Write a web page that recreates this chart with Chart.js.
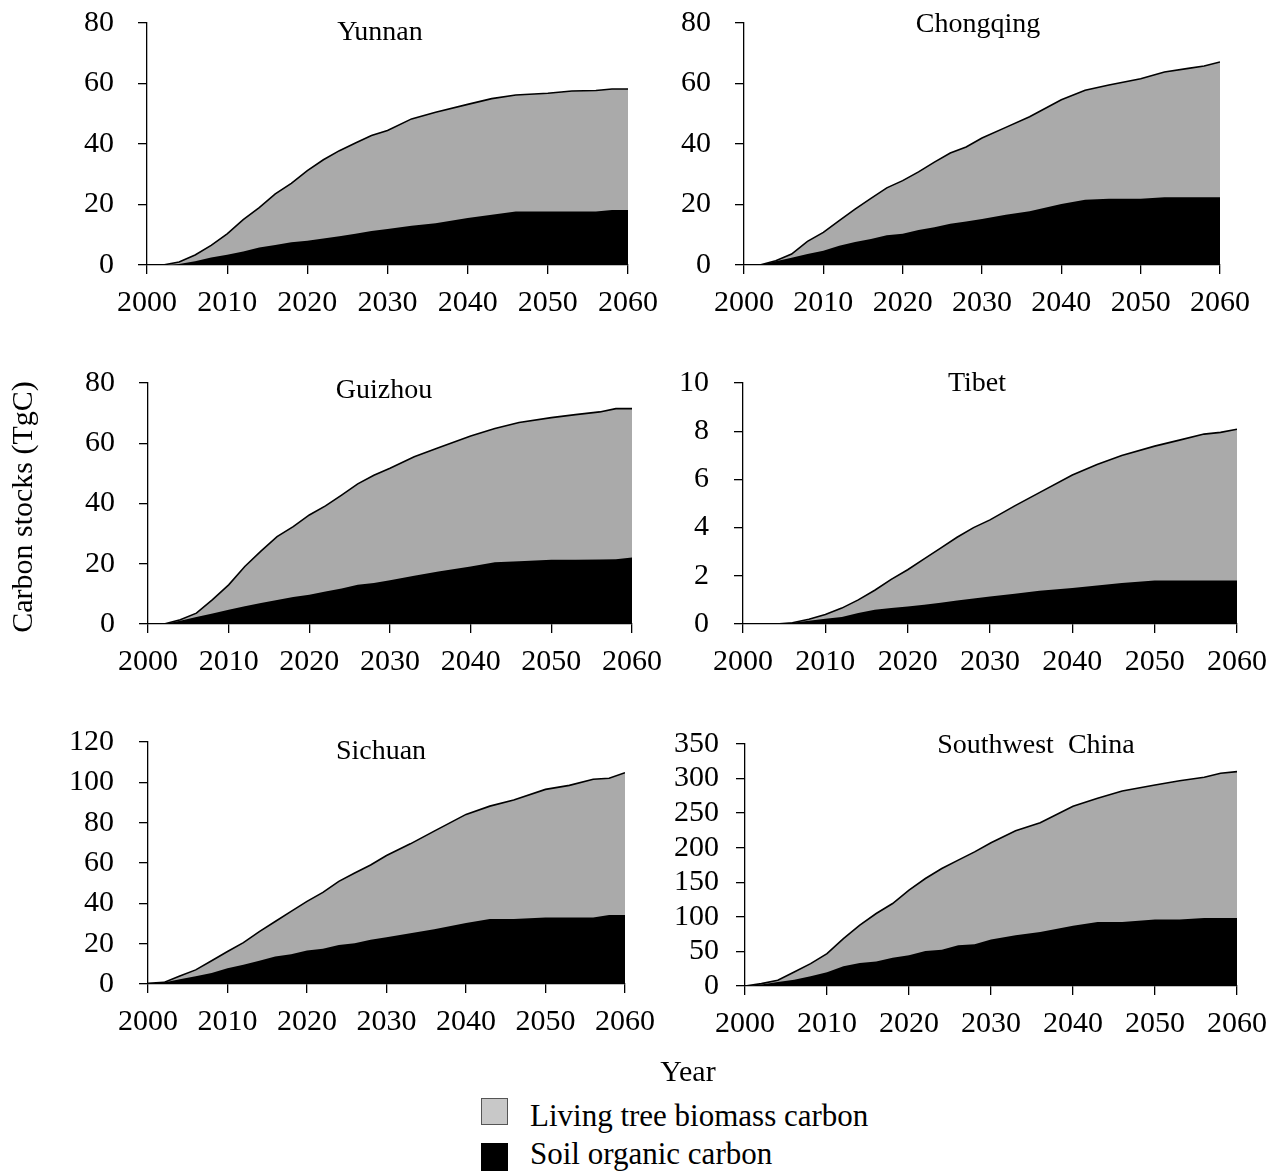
<!DOCTYPE html>
<html>
<head>
<meta charset="utf-8">
<script src="https://cdn.jsdelivr.net/npm/chart.js@4.4.0/dist/chart.umd.min.js"></script>
<style>
  body { margin: 0; background: #fff; width: 1270px; height: 1171px; position: relative; overflow: hidden;
         font-family: "Liberation Serif", "Times New Roman", serif; color: #000; }
  .panel { position: absolute; }
  .txt { position: absolute; font-size: 30px; line-height: 30px; white-space: nowrap; }
  .leg { font-size: 31px; }
  .box { position: absolute; width: 27px; height: 27px; }
</style>
</head>
<body>
<div id="charts"></div>
<div class="txt" style="left:22px;top:507px;transform:translate(-50%,-50%) rotate(-90deg);">Carbon stocks (TgC)</div>
<div class="txt" style="left:688px;top:1056px;transform:translateX(-50%);">Year</div>
<div class="box" style="left:481px;top:1098px;background:#c8c8c8;border:1px solid #555;box-sizing:border-box;"></div>
<div class="box" style="left:481px;top:1143px;height:28px;background:#000;"></div>
<div class="txt leg" style="left:530px;top:1101px;">Living tree biomass carbon</div>
<div class="txt leg" style="left:530px;top:1139px;">Soil organic carbon</div>
<script>
const years = [2000, 2002, 2004, 2006, 2008, 2010, 2012, 2014, 2016, 2018, 2020, 2022, 2024,
               2026, 2028, 2030, 2033, 2036, 2040, 2043, 2046, 2050, 2053, 2056, 2058, 2060];

// total stocks (tree + soil) and soil stocks, TgC
const yunnanTotal = [0, 0, 1, 3.3, 6.5, 10.3, 15, 19, 23.5, 27, 31.2, 34.8, 37.8, 40.3, 42.8, 44.5, 48.3, 50.5, 53.1, 55, 56.2, 56.8, 57.5, 57.7, 58.2, 58.2];
const yunnanSoil = [0, 0, 0.3, 1.2, 2.5, 3.4, 4.5, 5.8, 6.6, 7.5, 8, 8.8, 9.5, 10.3, 11.2, 11.9, 13, 13.8, 15.5, 16.6, 17.7, 17.7, 17.7, 17.7, 18.2, 18.2];
const chongqingTotal = [0, 0, 1.4, 3.6, 7.8, 10.8, 14.7, 18.5, 22, 25.5, 27.9, 30.8, 34, 37, 39, 42, 45.5, 49, 54.6, 57.8, 59.5, 61.6, 63.8, 65, 65.8, 67.1];
const chongqingSoil = [0, 0, 1.2, 2.4, 3.6, 4.7, 6.4, 7.6, 8.6, 9.8, 10.3, 11.6, 12.5, 13.6, 14.4, 15.2, 16.6, 17.8, 20.2, 21.6, 21.9, 21.9, 22.4, 22.4, 22.4, 22.4];
const guizhouTotal = [0, 0, 1.4, 3.6, 8.1, 13, 19.1, 24.2, 29, 32.3, 36.2, 39.2, 42.8, 46.5, 49.4, 51.7, 55.5, 58.5, 62.4, 64.9, 66.9, 68.5, 69.5, 70.4, 71.5, 71.5];
const guizhouSoil = [0, 0, 1.1, 2.3, 3.5, 4.7, 5.9, 7, 8, 9, 9.7, 10.8, 11.8, 13, 13.6, 14.5, 16, 17.4, 19.1, 20.5, 20.8, 21.3, 21.3, 21.4, 21.5, 22.1];
const tibetTotal = [0, 0, 0, 0.05, 0.2, 0.39, 0.66, 1.0, 1.4, 1.85, 2.25, 2.7, 3.15, 3.6, 4.0, 4.32, 4.9, 5.45, 6.18, 6.62, 6.99, 7.38, 7.63, 7.88, 7.95, 8.08];
const tibetSoil = [0, 0, 0, 0.05, 0.14, 0.22, 0.29, 0.46, 0.59, 0.66, 0.73, 0.8, 0.88, 0.98, 1.06, 1.14, 1.26, 1.38, 1.49, 1.6, 1.7, 1.8, 1.8, 1.8, 1.8, 1.8];
const sichuanTotal = [0.3, 0.8, 4, 7, 11.5, 16.1, 20.5, 26, 31, 36, 41, 45.4, 50.9, 55, 59, 63.7, 69.5, 75.8, 84.1, 88.2, 91.2, 96.5, 98.5, 101.5, 102, 104.8];
const sichuanSoil = [0.3, 0.8, 2.3, 3.8, 5.5, 7.8, 9.6, 11.5, 13.6, 14.8, 16.6, 17.5, 19.4, 20.2, 21.9, 23.2, 25.2, 27.2, 30.2, 32.2, 32.2, 33, 33, 33, 34.2, 34.2];
const swTotal = [0, 3.4, 8.2, 20.3, 32.4, 46.8, 68.6, 88, 104.8, 119.3, 138.6, 155.5, 170, 182, 194, 207.1, 224.5, 236, 260, 271.4, 282, 290.7, 296.9, 301.8, 307.6, 310];
const swSoil = [0, 2, 5.8, 9, 14, 20, 28.5, 33.3, 35.5, 41, 44.4, 50.7, 52.6, 58.9, 60.5, 67.1, 73.4, 78, 87, 92.7, 92.7, 96.1, 96.1, 98.5, 98.5, 98.5];

const FONT = '"Liberation Serif", "Times New Roman", serif';

// chart area in page pixels, title centre x / baseline y
const panels = [
  { title: "Yunnan", total: yunnanTotal, soil: yunnanSoil, max: 80, step: 20, L: 147, R: 628, T: 23, B: 265, tx: 380, ty: 40, pad: 24 },
  { title: "Chongqing", total: chongqingTotal, soil: chongqingSoil, max: 80, step: 20, L: 744, R: 1220, T: 23, B: 265, tx: 978, ty: 32, pad: 24 },
  { title: "Guizhou", total: guizhouTotal, soil: guizhouSoil, max: 80, step: 20, L: 148, R: 632, T: 383, B: 624, tx: 384, ty: 398, pad: 24 },
  { title: "Tibet", total: tibetTotal, soil: tibetSoil, max: 10, step: 2, L: 743, R: 1237, T: 383, B: 624, tx: 977, ty: 391, pad: 25 },
  { title: "Sichuan", total: sichuanTotal, soil: sichuanSoil, max: 120, step: 20, L: 148, R: 625, T: 742, B: 984, tx: 381, ty: 759, pad: 25 },
  { title: "Southwest  China", total: swTotal, soil: swSoil, max: 350, step: 50, L: 745, R: 1237, T: 744, B: 986, tx: 1036, ty: 753, pad: 17 }
];

const panelTitle = {
  id: "panelTitle",
  afterDraw(chart, args, opts) {
    const ctx = chart.ctx;
    ctx.save();
    ctx.font = "28px " + FONT;
    ctx.fillStyle = "#000";
    ctx.textAlign = "center";
    ctx.textBaseline = "alphabetic";
    ctx.fillText(opts.text, opts.x, opts.y);
    ctx.restore();
  }
};

const YW = 95, PT = 50, PR = 55, XH = 70;

panels.forEach((p) => {
  const left = p.L - YW, top = p.T - PT;
  const w = (p.R - p.L) + YW + PR, h = (p.B - p.T) + PT + XH;
  const div = document.createElement("div");
  div.className = "panel";
  div.style.left = left + "px";
  div.style.top = top + "px";
  div.style.width = w + "px";
  div.style.height = h + "px";
  const canvas = document.createElement("canvas");
  canvas.width = w;
  canvas.height = h;
  div.appendChild(canvas);
  document.getElementById("charts").appendChild(div);

  new Chart(canvas.getContext("2d"), {
    type: "line",
    data: {
      datasets: [
        {
          label: "Soil organic carbon",
          data: years.map((y, i) => ({ x: y, y: p.soil[i] })),
          backgroundColor: "#000",
          borderColor: "#000",
          borderWidth: 0,
          fill: "origin",
          order: 0
        },
        {
          label: "Living tree biomass carbon",
          data: years.map((y, i) => ({ x: y, y: p.total[i] })),
          backgroundColor: "#aaaaaa",
          borderColor: "#000",
          borderWidth: 1.6,
          fill: "origin",
          order: 1
        }
      ]
    },
    options: {
      responsive: false,
      animation: false,
      events: [],
      elements: { point: { radius: 0 }, line: { tension: 0 } },
      layout: { padding: { top: PT, right: PR, left: 0, bottom: 0 } },
      plugins: {
        legend: { display: false },
        tooltip: { enabled: false },
        panelTitle: { text: p.title, x: p.tx - left, y: p.ty - top }
      },
      scales: {
        x: {
          type: "linear",
          min: 2000,
          max: 2060,
          afterFit: (s) => { s.height = XH; },
          ticks: { stepSize: 10, padding: 14, autoSkip: false, color: "#000", font: { family: FONT, size: 30, lineHeight: 1 }, callback: (v) => String(v), maxRotation: 0 },
          grid: { drawOnChartArea: false, drawTicks: true, tickLength: 9, color: "#000", lineWidth: 1.3 },
          border: { display: true, color: "#000", width: 1.3 }
        },
        y: {
          min: 0,
          max: p.max,
          afterFit: (s) => { s.width = YW; },
          ticks: { stepSize: p.step, padding: p.pad, autoSkip: false, color: "#000", font: { family: FONT, size: 30, lineHeight: 1 } },
          grid: { drawOnChartArea: false, drawTicks: true, tickLength: 9, color: "#000", lineWidth: 1.3 },
          border: { display: true, color: "#000", width: 1.3 }
        }
      }
    },
    plugins: [panelTitle]
  });
});
</script>
</body>
</html>
